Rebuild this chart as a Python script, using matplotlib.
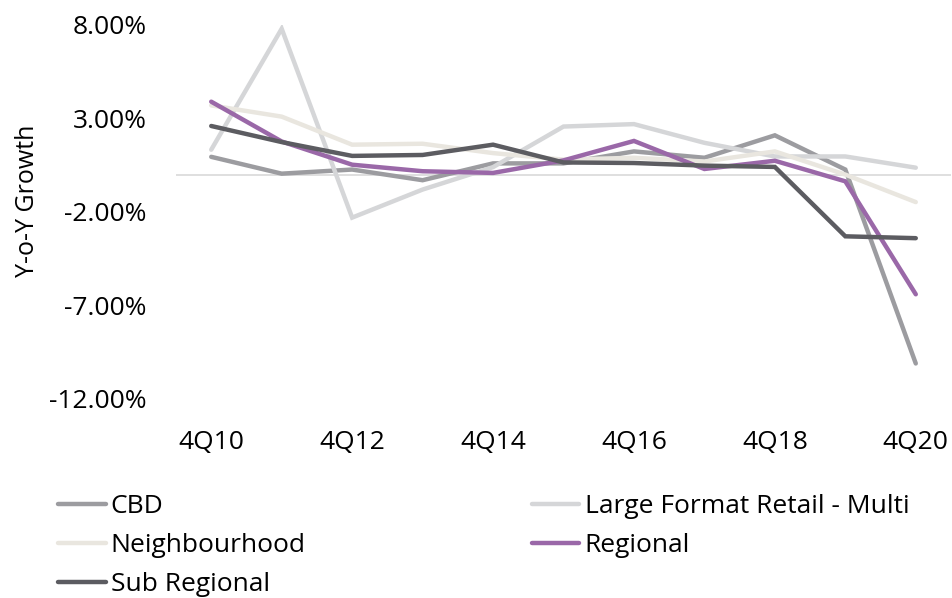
import matplotlib
matplotlib.use("Agg")
import matplotlib.pyplot as plt
from matplotlib.ticker import FuncFormatter
from matplotlib.legend import Legend

plt.rcParams['font.family'] = ['Open Sans', 'DejaVu Sans']

quarters = ["4Q10", "4Q11", "4Q12", "4Q13", "4Q14", "4Q15",
            "4Q16", "4Q17", "4Q18", "4Q19", "4Q20"]
tick_labels = ["4Q10", "4Q12", "4Q14", "4Q16", "4Q18", "4Q20"]

cbd = [0.95, 0.05, 0.27, -0.30, 0.60, 0.60, 1.24, 0.90, 2.10, 0.27, -10.10]
large_format = [1.33, 7.80, -2.30, -0.80, 0.40, 2.57, 2.70, 1.70, 0.97, 0.97, 0.37]
neighbourhood = [3.70, 3.10, 1.60, 1.65, 1.15, 0.80, 0.90, 0.70, 1.24, 0.00, -1.47]
regional = [3.90, 1.77, 0.53, 0.18, 0.09, 0.76, 1.80, 0.30, 0.74, -0.36, -6.40]
sub_regional = [2.60, 1.74, 1.00, 1.05, 1.60, 0.65, 0.62, 0.48, 0.41, -3.30, -3.40]

series = [
    ("CBD", cbd, "#9c9ca0"),
    ("Large Format Retail - Multi", large_format, "#d5d6d8"),
    ("Neighbourhood", neighbourhood, "#e9e6df"),
    ("Regional", regional, "#9a68a8"),
    ("Sub Regional", sub_regional, "#5c5c61"),
]

FS = 19

fig = plt.figure(figsize=(9.53, 5.98), dpi=100)
ax = fig.add_axes([176 / 953, 1 - 399 / 598, 775 / 953, 374 / 598])

x = list(range(len(quarters)))
handles = {}
for name, vals, color in series:
    (h,) = ax.plot(x, vals, color=color, lw=3.2, solid_capstyle="round",
                   solid_joinstyle="miter", label=name)
    handles[name] = h

ax.axhline(0, color="#d9d9d9", lw=1.2, zorder=0)

ax.set_xlim(-0.5, len(quarters) - 0.5)
ax.set_ylim(-12, 8)
ax.set_yticks([8, 3, -2, -7, -12])
ax.yaxis.set_major_formatter(FuncFormatter(lambda v, p: f"{v:.2f}%"))
ax.set_xticks([quarters.index(q) for q in tick_labels])
ax.set_xticklabels(tick_labels)

for s in ax.spines.values():
    s.set_visible(False)
ax.tick_params(axis="both", length=0, labelsize=FS, colors="#000000")
ax.tick_params(axis="y", pad=21)
ax.tick_params(axis="x", pad=22)

ax.set_ylabel("Y-o-Y Growth", fontsize=FS - 1)
ax.yaxis.set_label_coords((40 - 176) / 775, (399 - 201) / 374)

leg_kw = dict(loc="upper left", frameon=False, fontsize=FS,
              handlelength=1.8, handletextpad=0.2, labelspacing=0.53,
              borderaxespad=0, borderpad=0)

left_names = ["CBD", "Neighbourhood", "Sub Regional"]
right_names = ["Large Format Retail - Multi", "Regional"]

leg_left = Legend(fig, [handles[n] for n in left_names], left_names,
                  bbox_to_anchor=(58 / 953, 1 - 494 / 598),
                  bbox_transform=fig.transFigure, **leg_kw)
leg_right = Legend(fig, [handles[n] for n in right_names], right_names,
                   bbox_to_anchor=(532 / 953, 1 - 494 / 598),
                   bbox_transform=fig.transFigure, **leg_kw)
fig.add_artist(leg_left)
fig.add_artist(leg_right)

fig.savefig("out.png", dpi=100)
